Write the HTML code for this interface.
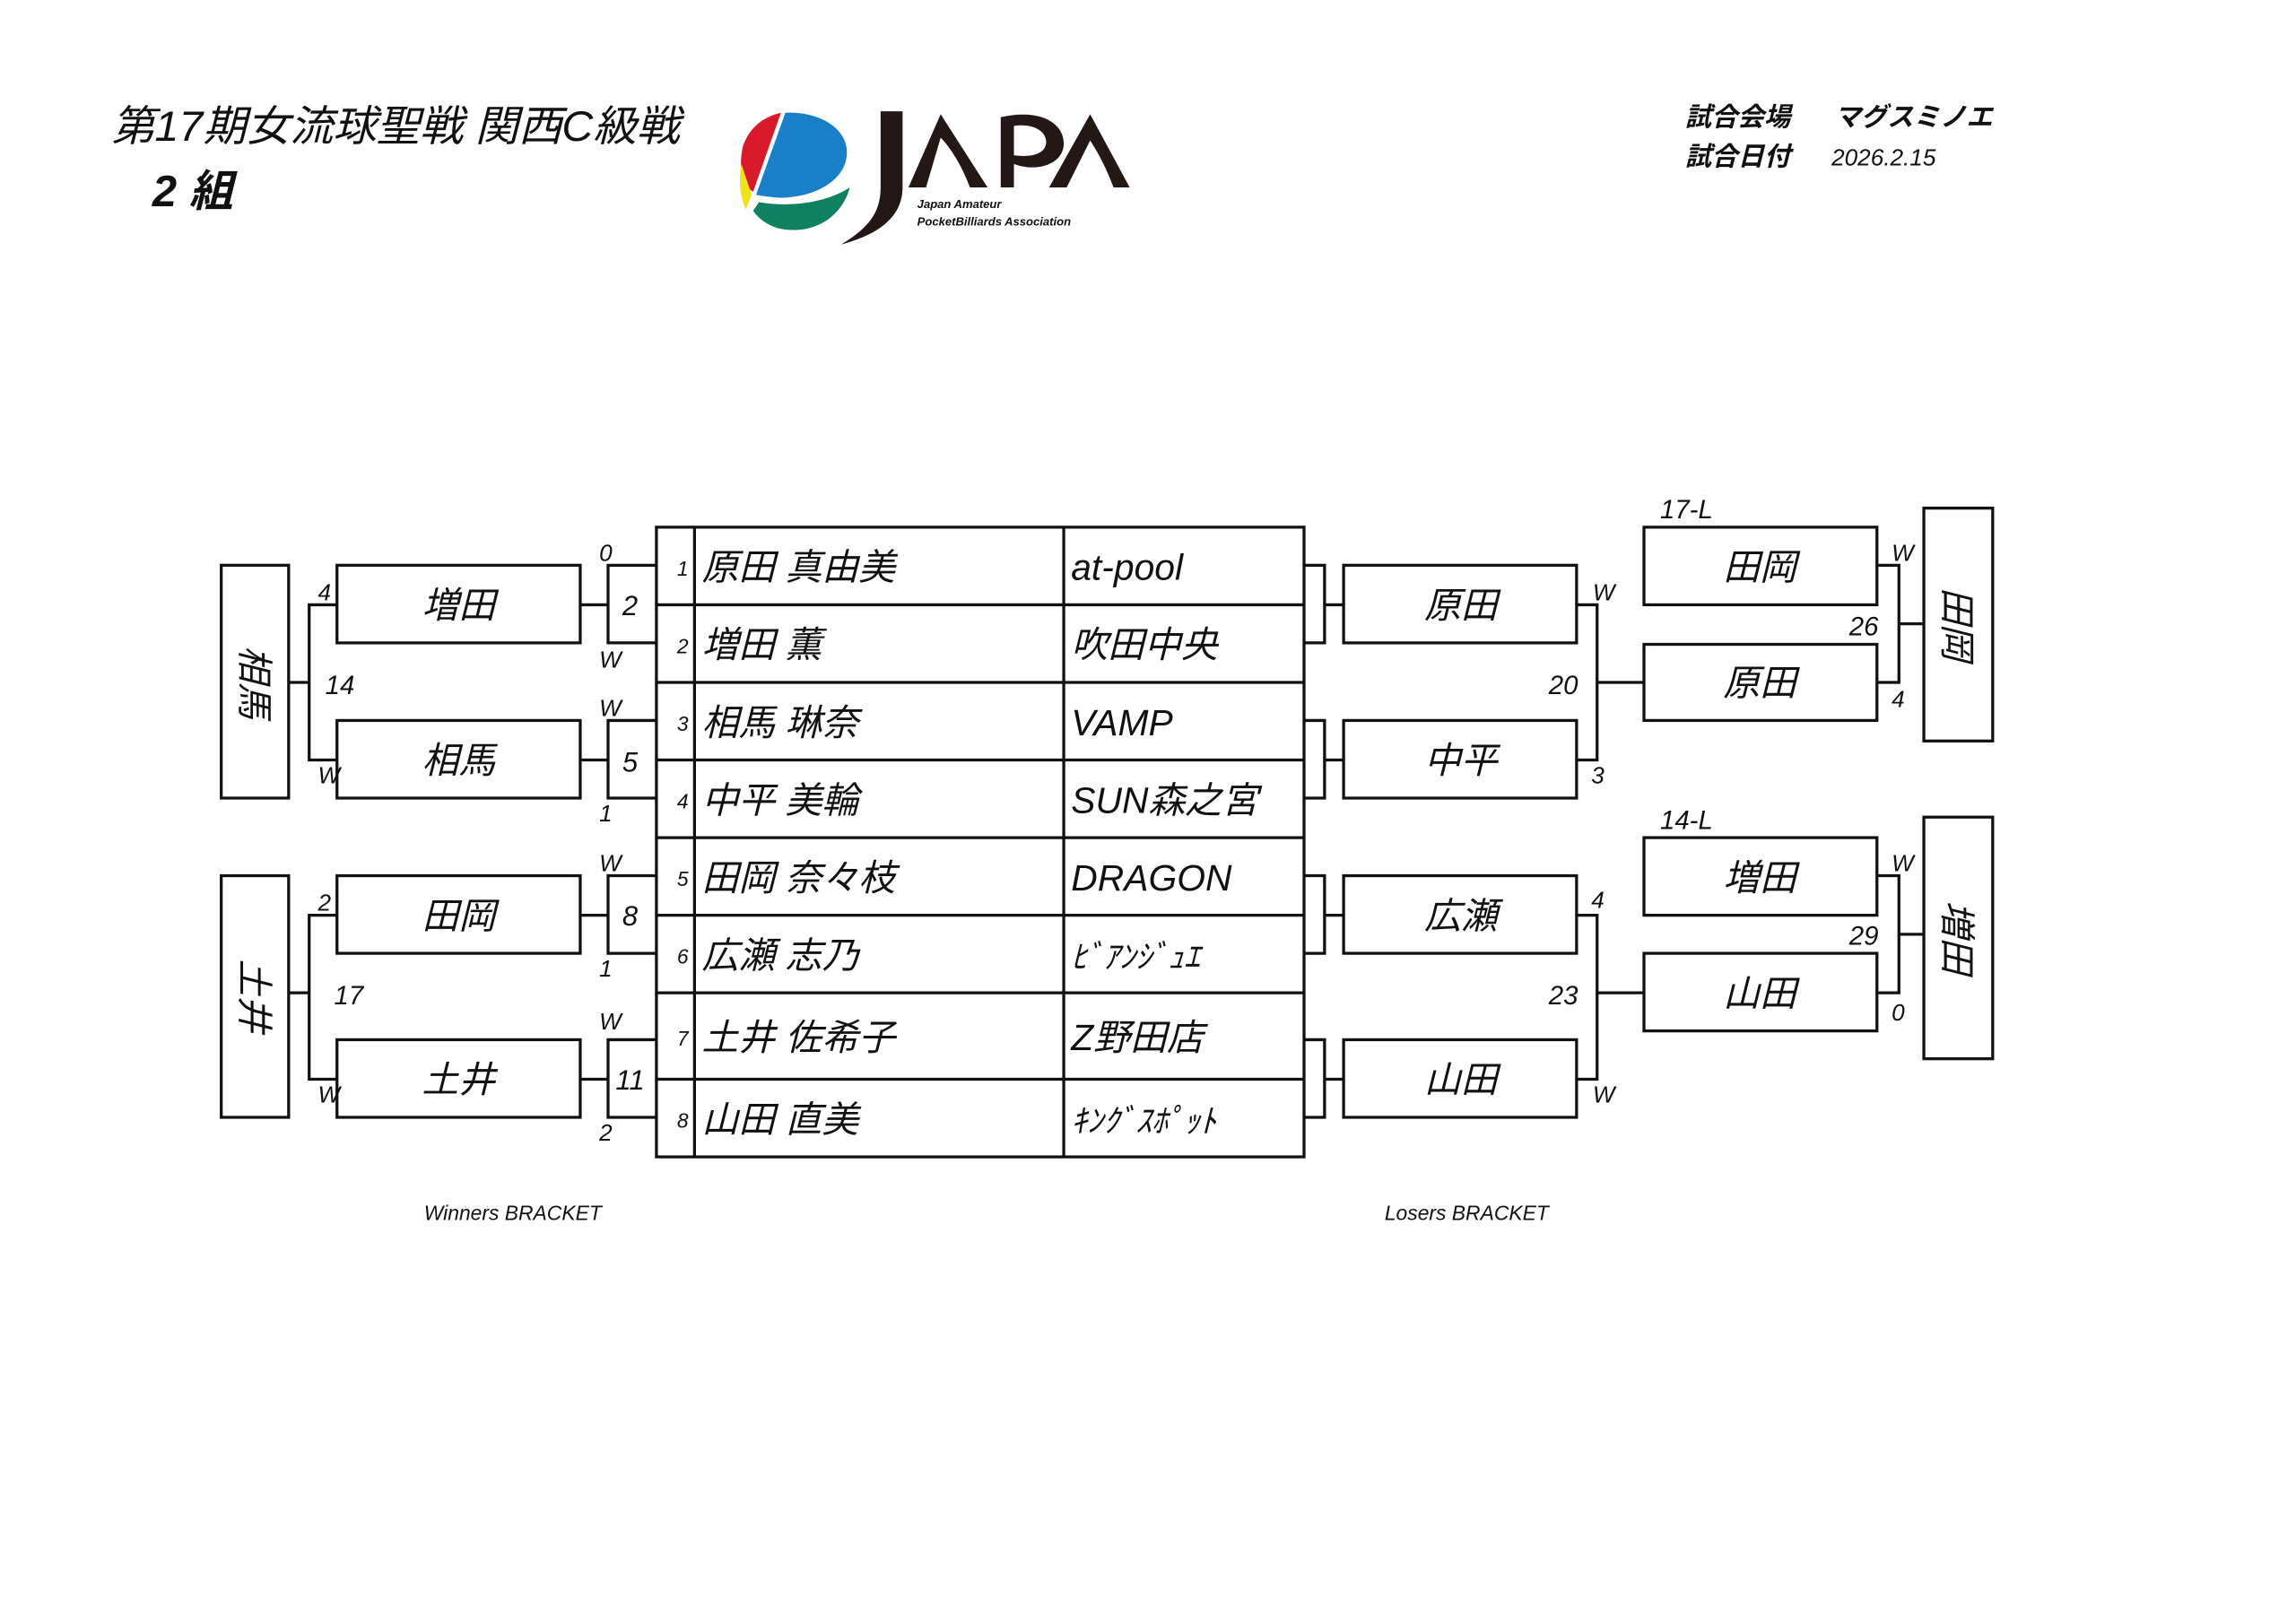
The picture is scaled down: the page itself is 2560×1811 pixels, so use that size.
<!DOCTYPE html>
<html><head><meta charset="utf-8"><style>
html,body{margin:0;padding:0;background:#fff;}
svg{display:block;}
text{font-family:"Liberation Sans","Noto Sans CJK JP",sans-serif;font-style:italic;fill:#111;}
</style></head><body>
<svg width="2560" height="1811" viewBox="0 0 1567 1109" preserveAspectRatio="none" xmlns="http://www.w3.org/2000/svg">
<rect width="1567" height="1109" fill="#fff"/>
<!-- header -->
<text x="76" y="96" font-size="29" textLength="388" lengthAdjust="spacingAndGlyphs">第17期女流球聖戦 関西C級戦</text>
<text x="104" y="141" font-size="30" font-weight="bold">2 組</text>
<text x="1150" y="86" font-size="18" font-weight="bold">試合会場</text>
<text x="1252" y="86" font-size="18" font-weight="bold">マグスミノエ</text>
<text x="1150" y="113" font-size="18" font-weight="bold">試合日付</text>
<text x="1250" y="113" font-size="16">2026.2.15</text>
<!-- logo -->
<g>
<path d="M536,77 C560,76 578,88 578,104 C578,122 558,134 535,135 C528,135 522,134 516,133 Z" fill="#1a7fc9"/>
<path d="M533,77 L514,131 C506,126 504,114 507,100 C511,88 520,80 533,77 Z" fill="#d9192c"/>
<path d="M506,112 L513,133 L509,143 C505,135 504,122 506,112 Z" fill="#f2e21c"/>
<path d="M518,138 C540,142 565,138 580,128 C575,147 558,158 540,157 C528,157 519,151 514,144 Z" fill="#0f8060"/>
<path d="M601,76 L616,76 L616,128 C616,148 600,160 574,167 C592,156 601,146 601,128 Z" fill="#231815"/>
<path d="M620,128 L642,78 L674,128 L662,128 C656,112 648,100 642,94 L632,128 Z" fill="#231815"/>
<path d="M683,128 L683,80 C710,74 726,84 726,98 C726,112 708,118 692,112 L692,128 Z M692,86 L692,106 C706,108 714,104 714,97 C714,89 704,84 692,86 Z" fill="#231815"/>
<path d="M716,128 L744,78 L771,128 L760,128 C754,112 748,102 744,96 L728,128 Z" fill="#231815"/>
<text x="626" y="142" font-size="8" font-style="normal" font-weight="bold">Japan Amateur</text>
<text x="626" y="154" font-size="8" font-style="normal" font-weight="bold">PocketBilliards Association</text>
</g>
<g fill="none" stroke="#111" stroke-width="2">
<rect x="448" y="360" width="442" height="430"/>
<line x1="474" y1="360" x2="474" y2="790"/>
<line x1="726" y1="360" x2="726" y2="790"/>
<line x1="448" y1="413" x2="890" y2="413"/>
<line x1="448" y1="466" x2="890" y2="466"/>
<line x1="448" y1="519" x2="890" y2="519"/>
<line x1="448" y1="572" x2="890" y2="572"/>
<line x1="448" y1="625" x2="890" y2="625"/>
<line x1="448" y1="678" x2="890" y2="678"/>
<line x1="448" y1="737" x2="890" y2="737"/>
<path d="M448,386 H415 V439 H448"/>
<path d="M448,492 H415 V545 H448"/>
<path d="M448,598 H415 V651 H448"/>
<path d="M448,710 H415 V763 H448"/>
<line x1="396" y1="413" x2="415" y2="413"/>
<line x1="396" y1="519" x2="415" y2="519"/>
<line x1="396" y1="625" x2="415" y2="625"/>
<line x1="396" y1="737" x2="415" y2="737"/>
<rect x="230" y="386" width="166" height="53"/>
<rect x="230" y="492" width="166" height="53"/>
<rect x="230" y="598" width="166" height="53"/>
<rect x="230" y="710" width="166" height="53"/>
<path d="M230,413 H211 V519 H230"/>
<line x1="197" y1="466" x2="211" y2="466"/>
<path d="M230,625 H211 V737 H230"/>
<line x1="197" y1="678" x2="211" y2="678"/>
<rect x="151" y="386" width="46" height="159"/>
<rect x="151" y="598" width="46" height="165"/>
<path d="M890,386 H904 V439 H890"/>
<path d="M890,492 H904 V545 H890"/>
<path d="M890,598 H904 V651 H890"/>
<path d="M890,710 H904 V763 H890"/>
<line x1="904" y1="413" x2="917" y2="413"/>
<line x1="904" y1="519" x2="917" y2="519"/>
<line x1="904" y1="625" x2="917" y2="625"/>
<line x1="904" y1="737" x2="917" y2="737"/>
<rect x="917" y="386" width="159" height="53"/>
<rect x="917" y="492" width="159" height="53"/>
<rect x="917" y="598" width="159" height="53"/>
<rect x="917" y="710" width="159" height="53"/>
<path d="M1076,413 H1090 V519 H1076"/>
<line x1="1090" y1="466" x2="1122" y2="466"/>
<path d="M1076,625 H1090 V737 H1076"/>
<line x1="1090" y1="678" x2="1122" y2="678"/>
<rect x="1122" y="360" width="159" height="53"/>
<rect x="1122" y="440" width="159" height="52"/>
<rect x="1122" y="572" width="159" height="53"/>
<rect x="1122" y="651" width="159" height="53"/>
<path d="M1281,386 H1296 V466 H1281"/>
<line x1="1296" y1="426" x2="1313" y2="426"/>
<path d="M1281,598 H1296 V678 H1281"/>
<line x1="1296" y1="638" x2="1313" y2="638"/>
<rect x="1313" y="347" width="47" height="159"/>
<rect x="1313" y="558" width="47" height="165"/>
</g>
<g font-size="14" text-anchor="middle">
<text x="466" y="393">1</text><text x="466" y="446">2</text><text x="466" y="499">3</text><text x="466" y="552">4</text>
<text x="466" y="605">5</text><text x="466" y="658">6</text><text x="466" y="714">7</text><text x="466" y="770">8</text>
</g>
<g font-size="25">
<text x="479" y="396">原田 真由美</text><text x="479" y="449">増田 薫</text><text x="479" y="502">相馬 琳奈</text><text x="479" y="555">中平 美輪</text>
<text x="479" y="608">田岡 奈々枝</text><text x="479" y="661">広瀬 志乃</text><text x="479" y="717">土井 佐希子</text><text x="479" y="773">山田 直美</text>
<text x="731" y="396">at-pool</text><text x="731" y="449">吹田中央</text><text x="731" y="502">VAMP</text><text x="731" y="555">SUN森之宮</text>
<text x="731" y="608">DRAGON</text><text x="731" y="661" font-size="22">ﾋﾞｱﾝｼﾞｭｴ</text><text x="731" y="717">Z野田店</text><text x="731" y="773" font-size="22">ｷﾝｸﾞｽﾎﾟｯﾄ</text>
</g>
<g font-size="25" text-anchor="middle">
<text x="313" y="422">増田</text><text x="313" y="528">相馬</text><text x="313" y="634">田岡</text><text x="313" y="746">土井</text>
<text x="997" y="422">原田</text><text x="997" y="528">中平</text><text x="997" y="634">広瀬</text><text x="997" y="746">山田</text>
<text x="1201" y="396">田岡</text><text x="1201" y="475">原田</text><text x="1201" y="608">増田</text><text x="1201" y="687">山田</text>
<text transform="translate(165,466) rotate(90)" x="0" y="0">相馬</text>
<text transform="translate(165,680) rotate(90)" x="0" y="0">土井</text>
<text transform="translate(1327,426) rotate(90)" x="0" y="0">田岡</text>
<text transform="translate(1327,640) rotate(90)" x="0" y="0">増田</text>
</g>
<g font-size="19" text-anchor="middle">
<text x="430" y="420">2</text><text x="430" y="527">5</text><text x="430" y="632">8</text><text x="430" y="744">11</text>
</g>
<g font-size="16">
<text x="409" y="383">0</text><text x="409" y="456">W</text><text x="409" y="489">W</text><text x="409" y="561">1</text>
<text x="409" y="595">W</text><text x="409" y="667">1</text><text x="409" y="703">W</text><text x="409" y="779">2</text>
<text x="217" y="410">4</text><text x="217" y="535">W</text><text x="222" y="474" font-size="18">14</text>
<text x="217" y="622">2</text><text x="217" y="753">W</text><text x="228" y="686" font-size="18">17</text>
<text x="1087" y="410">W</text><text x="1086" y="535">3</text><text x="1057" y="474" font-size="18">20</text>
<text x="1086" y="620">4</text><text x="1087" y="753">W</text><text x="1057" y="686" font-size="18">23</text>
<text x="1291" y="383">W</text><text x="1291" y="483">4</text><text x="1262" y="434" font-size="18">26</text>
<text x="1291" y="595">W</text><text x="1291" y="697">0</text><text x="1262" y="645" font-size="18">29</text>
<text x="1133" y="354" font-size="18">17-L</text><text x="1133" y="566" font-size="18">14-L</text>
</g>
<text x="350" y="833" font-size="14" text-anchor="middle">Winners BRACKET</text>
<text x="1001" y="833" font-size="14" text-anchor="middle">Losers BRACKET</text>
</svg>
</body></html>
